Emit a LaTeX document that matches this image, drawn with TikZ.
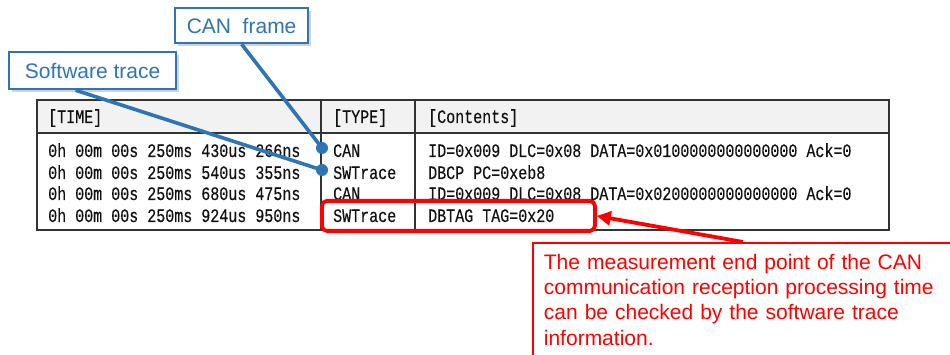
\documentclass[tikz,border=0pt]{standalone}
\usepackage{fontspec}
\setmainfont{Liberation Sans}
\newfontfamily\tblfont[FakeStretch=0.79,FakeBold=0.35]{Liberation Mono}
\usetikzlibrary{shadows,arrows.meta,calc}
\definecolor{ppblue}{HTML}{2E75B6}
\definecolor{hdrgray}{HTML}{F2F2F2}
\definecolor{tblgray}{HTML}{333333}
\definecolor{txtgray}{HTML}{111111}
\begin{document}
\begin{tikzpicture}[x=1pt,y=-1pt,
  lbl/.style={draw=ppblue, line width=2.2pt, fill=white, text=ppblue,
    font=\fontsize{21}{25}\selectfont, inner sep=0pt, anchor=north west,
    drop shadow={opacity=0.35, shadow xshift=3pt, shadow yshift=-3pt}},
  tbltext/.style={anchor=base west, inner sep=0pt, text=txtgray,
    font=\tblfont\fontsize{19}{22}\selectfont},
  tblline/.style={draw=tblgray, line width=1.4pt},
  bline/.style={draw=ppblue, line width=3.6pt},
  bdot/.style={circle, fill=ppblue, inner sep=0pt, minimum size=12pt},
  redline/.style={draw=red, line width=3.8pt}]
\useasboundingbox (0,0) rectangle (950,355);
\clip (0,0) rectangle (950,355);
\fill[white] (0,0) rectangle (950,355);
% table
\fill[hdrgray] (37,100) rectangle (889,133);
\draw[tblline] (37,100) rectangle (889,230);
\draw[tblline] (37,133) -- (889,133);
\draw[tblline] (321,100) -- (321,230);
\draw[tblline] (415,100) -- (415,230);
\node[tbltext] (hTime) at (48,123) {[TIME]};
\node[tbltext] (hType) at (333,123) {[TYPE]};
\node[tbltext] (hCont) at (428,123) {[Contents]};
\node[tbltext] (t1) at (48,157) {0h 00m 00s 250ms 430us 266ns};
\node[tbltext] (t2) at (48,179) {0h 00m 00s 250ms 540us 355ns};
\node[tbltext] (t3) at (48,200) {0h 00m 00s 250ms 680us 475ns};
\node[tbltext] (t4) at (48,222) {0h 00m 00s 250ms 924us 950ns};
\node[tbltext] (y1) at (333,157) {CAN};
\node[tbltext] (y2) at (333,179) {SWTrace};
\node[tbltext] (y3) at (333,200) {CAN};
\node[tbltext] (y4) at (333,222) {SWTrace};
\node[tbltext] (c1) at (428,157) {ID=0x009 DLC=0x08 DATA=0x0100000000000000 Ack=0};
\node[tbltext] (c2) at (428,179) {DBCP PC=0xeb8};
\node[tbltext] (c3) at (428,200) {ID=0x009 DLC=0x08 DATA=0x0200000000000000 Ack=0};
\node[tbltext] (c4) at (428,222) {DBTAG TAG=0x20};
% red mark around last row
\node[redline, rounded corners=5pt, minimum width=273pt, minimum height=30pt,
  anchor=north west, inner sep=0pt] (mark) at (320,199) {};
% blue labels
\node[lbl, minimum width=133pt, minimum height=35pt] (canlbl) at (174,7) {CAN~~frame};
\node[lbl, minimum width=167pt, minimum height=37pt] (swlbl) at (8,51) {Software trace};
\node[bdot] (d1) at (322,148) {};
\node[bdot] (d2) at (322,170) {};
\draw[bline] (canlbl.south) -- (d1.center);
\draw[bline] ($(swlbl.south)+(-17,0)$) -- (d2.center);
% red callout
\node[draw=red, line width=1.8pt, fill=white, text=red, anchor=north west, align=left,
  inner sep=11pt, text width=420pt, font=\fontsize{21}{25.3}\selectfont] (callout) at (532,242)
  {The measurement end point of the CAN\\communication reception processing time\\can be checked by the software trace\\information.};
\coordinate (tail) at (743,242);
\draw[redline, -{Triangle[length=14pt,width=14pt]}] (tail) -- (mark.east);
\end{tikzpicture}
\end{document}
